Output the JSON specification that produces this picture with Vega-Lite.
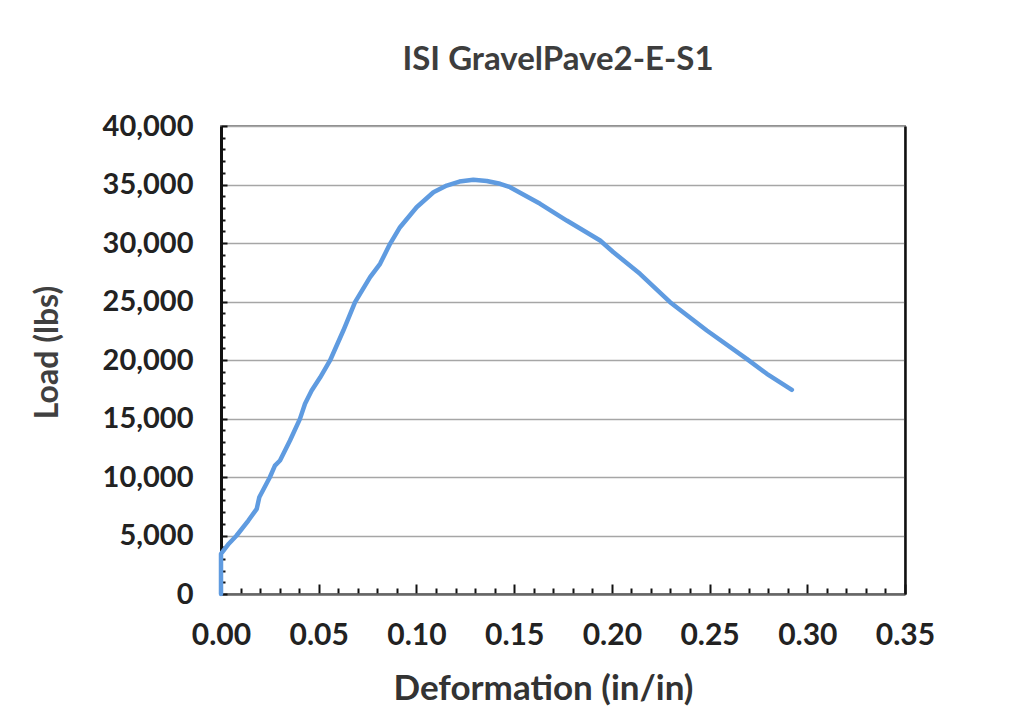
{
  "$schema": "https://vega.github.io/schema/vega-lite/v6.json",
  "autosize": {"type": "none"},
  "width": 684,
  "height": 468,
  "padding": {"left": 221, "top": 126, "right": 109, "bottom": 133},
  "background": "white",
  "config": {
    "view": {"stroke": "#8a8a8a", "strokeWidth": 2},
    "font": "Lato"
  },
  "title": {
    "text": "ISI GravelPave2-E-S1",
    "font": "Lato",
    "fontSize": 33,
    "fontWeight": "bold",
    "color": "#3d3d3d",
    "anchor": "middle",
    "frame": "group",
    "offset": 35,
    "dx": -5
  },
  "data": {
    "values": [
      {"deformation": 0, "load": 0},
      {"deformation": 0, "load": 3430},
      {"deformation": 0.004, "load": 4300},
      {"deformation": 0.008, "load": 5000},
      {"deformation": 0.014, "load": 6280},
      {"deformation": 0.0183, "load": 7280},
      {"deformation": 0.0196, "load": 8270},
      {"deformation": 0.025, "load": 9980},
      {"deformation": 0.0276, "load": 10980},
      {"deformation": 0.0302, "load": 11410},
      {"deformation": 0.0353, "load": 13120},
      {"deformation": 0.0404, "load": 14970},
      {"deformation": 0.043, "load": 16260},
      {"deformation": 0.0464, "load": 17390},
      {"deformation": 0.0507, "load": 18500},
      {"deformation": 0.0558, "load": 19960},
      {"deformation": 0.0626, "load": 22520},
      {"deformation": 0.0686, "load": 24940},
      {"deformation": 0.0763, "load": 27080},
      {"deformation": 0.0814, "load": 28220},
      {"deformation": 0.0865, "load": 29930},
      {"deformation": 0.0916, "load": 31350},
      {"deformation": 0.1001, "load": 33060},
      {"deformation": 0.1087, "load": 34340},
      {"deformation": 0.1155, "load": 34910},
      {"deformation": 0.122, "load": 35250},
      {"deformation": 0.1291, "load": 35400},
      {"deformation": 0.136, "load": 35300},
      {"deformation": 0.1428, "load": 35060},
      {"deformation": 0.1479, "load": 34770},
      {"deformation": 0.1633, "load": 33350},
      {"deformation": 0.1769, "load": 31920},
      {"deformation": 0.194, "load": 30210},
      {"deformation": 0.2008, "load": 29210},
      {"deformation": 0.2144, "load": 27370},
      {"deformation": 0.2298, "load": 24940},
      {"deformation": 0.2486, "load": 22520},
      {"deformation": 0.269, "load": 20100},
      {"deformation": 0.2793, "load": 18820},
      {"deformation": 0.2921, "load": 17450}
    ]
  },
  "encoding": {
    "x": {
      "field": "deformation",
      "type": "quantitative",
      "scale": {"domain": [0, 0.35], "nice": false},
      "axis": {
        "title": "Deformation (in/in)",
        "titleFont": "Lato",
        "titleFontSize": 35,
        "titleFontWeight": "bold",
        "titleColor": "#333333",
        "titleX": 322,
        "titleY": 94,
        "titleBaseline": "middle",
        "titleAlign": "center",
        "values": [0,0.01,0.02,0.03,0.04,0.05,0.06,0.07,0.08,0.09,0.1,0.11,0.12,0.13,0.14,0.15,0.16,0.17,0.18,0.19,0.2,0.21,0.22,0.23,0.24,0.25,0.26,0.27,0.28,0.29,0.3,0.31,0.32,0.33,0.34,0.35],
        "labelExpr": "round(datum.value*100) % 5 == 0 ? format(datum.value, '.2f') : ''",
        "labelFont": "Lato",
        "labelFontSize": 30,
        "labelFontWeight": "bold",
        "labelColor": "#222222",
        "labelPadding": 36,
        "labelOverlap": false,
        "labelFlush": false,
        "labelBound": false,
        "grid": false,
        "domainColor": "#666666",
        "domainWidth": 2.5,
        "tickColor": "#111111",
        "tickWidth": 2,
        "tickSize": {"condition": {"test": "round(datum.value*100) % 5 == 0", "value": -10}, "value": -6}
      }
    },
    "y": {
      "field": "load",
      "type": "quantitative",
      "scale": {"domain": [0, 40000], "nice": false},
      "axis": {
        "title": "Load (lbs)",
        "titleFont": "Lato",
        "titleFontSize": 32,
        "titleFontWeight": "bold",
        "titleColor": "#404040",
        "titleAngle": 270,
        "titleX": -174,
        "titleY": 226,
        "titleBaseline": "middle",
        "titleAlign": "center",
        "values": [0,1000,2000,3000,4000,5000,6000,7000,8000,9000,10000,11000,12000,13000,14000,15000,16000,17000,18000,19000,20000,21000,22000,23000,24000,25000,26000,27000,28000,29000,30000,31000,32000,33000,34000,35000,36000,37000,38000,39000,40000],
        "labelExpr": "datum.value % 5000 == 0 ? format(datum.value, ',') : ''",
        "labelFont": "Lato",
        "labelFontSize": 29,
        "labelFontWeight": "bold",
        "labelColor": "#222222",
        "labelPadding": 34,
        "labelOverlap": false,
        "labelFlush": false,
        "grid": true,
        "gridColor": "#a6a6a6",
        "gridWidth": 1.5,
        "gridOpacity": {"condition": {"test": "datum.value % 5000 == 0", "value": 1}, "value": 0},
        "domainColor": "#111111",
        "domainWidth": 3,
        "tickColor": "#111111",
        "tickWidth": 2,
        "tickSize": {"condition": {"test": "datum.value % 5000 == 0", "value": -6}, "value": -4}
      }
    },
    "order": {"value": null}
  },
  "layer": [
    {
      "mark": {"type": "line", "color": "#5f9be0", "strokeWidth": 4.5, "strokeCap": "round", "strokeJoin": "round"}
    },
    {
      "mark": {"type": "line", "opacity": 0},
      "encoding": {
        "y": {
          "field": "load",
          "type": "quantitative",
          "axis": {
            "orient": "right",
            "title": null,
            "labels": false,
            "ticks": false,
            "grid": false,
            "domainColor": "#111111",
            "domainWidth": 2.5
          }
        }
      }
    }
  ],
  "resolve": {"axis": {"y": "independent"}}
}
